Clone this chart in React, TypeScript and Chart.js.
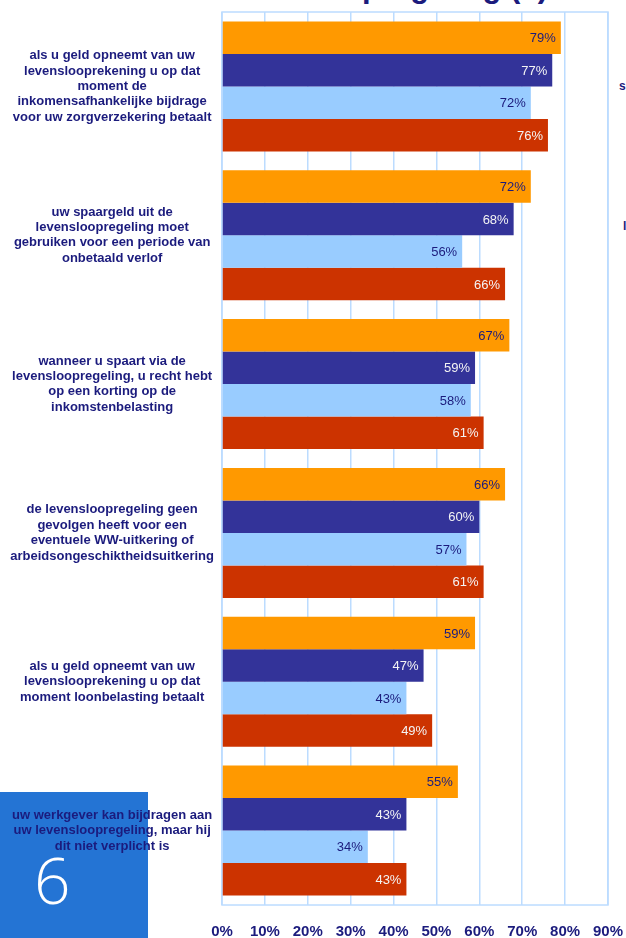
import React, { useEffect, useRef } from "react";
import { Chart, registerables } from "chart.js";

Chart.register(...registerables);

const categories: string[][] = [
  ["als u geld opneemt van uw", "levenslooprekening u op dat", "moment de", "inkomensafhankelijke bijdrage", "voor uw zorgverzekering betaalt"],
  ["uw spaargeld uit de", "levensloopregeling moet", "gebruiken voor een periode van", "onbetaald verlof"],
  ["wanneer u spaart via de", "levensloopregeling, u recht hebt", "op een korting op de", "inkomstenbelasting"],
  ["de levensloopregeling geen", "gevolgen heeft voor een", "eventuele WW-uitkering of", "arbeidsongeschiktheidsuitkering"],
  ["als u geld opneemt van uw", "levenslooprekening u op dat", "moment loonbelasting betaalt"],
  ["uw werkgever kan bijdragen aan", "uw levensloopregeling, maar hij", "dit niet verplicht is"],
];

const seriesNames = ["Reeks 1", "Reeks 2", "Reeks 3", "Reeks 4"];
const series1 = [79, 72, 67, 66, 59, 55];
const series2 = [77, 68, 59, 60, 47, 43];
const series3 = [72, 56, 58, 57, 43, 34];
const series4 = [76, 66, 61, 61, 49, 43];

const xTicks = [0, 10, 20, 30, 40, 50, 60, 70, 80, 90];

const barColors = ["#FF9900", "#333399", "#99CCFF", "#CC3300"];
const labelColors = ["#1b1b7d", "#f4f4f4", "#1b1b7d", "#f4f4f4"];
const NAVY = "#1b1b7d";
const GRID = "#bcdcff";
const FONT = "'Liberation Sans', Arial, sans-serif";

const framePlugin = {
  id: "frame",
  beforeDatasetsDraw(chart: any) {
    const { ctx, chartArea } = chart;
    ctx.save();
    ctx.strokeStyle = GRID;
    ctx.lineWidth = 1.5;
    ctx.strokeRect(chartArea.left, chartArea.top, chartArea.right - chartArea.left, chartArea.bottom - chartArea.top);
    ctx.restore();
  },
};

const valueLabelPlugin = {
  id: "valueLabels",
  afterDatasetsDraw(chart: any) {
    const { ctx } = chart;
    ctx.save();
    ctx.font = `13px ${FONT}`;
    ctx.textAlign = "right";
    ctx.textBaseline = "middle";
    chart.data.datasets.forEach((ds: any, di: number) => {
      const meta = chart.getDatasetMeta(di);
      meta.data.forEach((bar: any, i: number) => {
        ctx.fillStyle = labelColors[di];
        ctx.fillText(`${ds.data[i]}%`, bar.x - 5, bar.y + 1);
      });
    });
    ctx.restore();
  },
};

function zeroPadding(scale: any) {
  scale.paddingTop = 0;
  scale.paddingBottom = 0;
  scale.paddingLeft = 0;
  scale.paddingRight = 0;
}

export default function App() {
  const canvasRef = useRef<HTMLCanvasElement | null>(null);

  useEffect(() => {
    if (!canvasRef.current) return;
    const all = [series1, series2, series3, series4];
    const chart = new Chart(canvasRef.current, {
      type: "bar",
      data: {
        labels: categories,
        datasets: all.map((d, i) => ({
          label: seriesNames[i],
          data: d,
          backgroundColor: barColors[i],
          borderWidth: 0,
          categoryPercentage: 0.874,
          barPercentage: 1.0,
        })),
      },
      options: {
        indexAxis: "y",
        animation: false,
        responsive: false,
        maintainAspectRatio: false,
        layout: { padding: { top: 12, right: 18, left: 0, bottom: 0 } },
        plugins: {
          legend: { display: false },
          tooltip: { enabled: false },
          title: { display: false },
        },
        scales: {
          x: {
            min: 0,
            max: 90,
            afterBuildTicks(scale: any) {
              scale.ticks = xTicks.map((v) => ({ value: v }));
            },
            afterFit(scale: any) {
              scale.height = 33;
              zeroPadding(scale);
            },
            grid: { color: GRID, lineWidth: 1.5, drawTicks: false },
            border: { display: false },
            ticks: {
              padding: 18,
              color: NAVY,
              font: { family: FONT, size: 15, weight: "bold" },
              callback: (v: any) => `${v}%`,
              maxRotation: 0,
              autoSkip: false,
            },
          },
          y: {
            afterFit(scale: any) {
              scale.width = 222;
              zeroPadding(scale);
            },
            grid: { display: false, drawTicks: false },
            border: { display: false },
            ticks: {
              crossAlign: "center",
              padding: 8,
              color: NAVY,
              autoSkip: false,
              font: { family: FONT, size: 13, weight: "bold", lineHeight: 1.18 },
            },
          },
        },
      },
      plugins: [framePlugin, valueLabelPlugin],
    } as any);
    return () => chart.destroy();
  }, []);

  return (
    <div
      style={{
        position: "fixed",
        left: 0,
        top: 0,
        width: 626,
        height: 938,
        overflow: "hidden",
        background: "#ffffff",
        fontFamily: FONT,
      }}
    >
      <div
        style={{
          position: "absolute",
          left: 0,
          top: 792,
          width: 148,
          height: 146,
          background: "#2474d4",
        }}
      />
      <div
        style={{
          position: "absolute",
          left: 34,
          top: 842,
          fontFamily: "'Open Sans', 'DejaVu Sans', sans-serif",
          fontWeight: 300,
          fontSize: 64,
          lineHeight: "76px",
          color: "#ffffff",
        }}
      >
        6
      </div>
      <div
        style={{
          position: "absolute",
          right: 78,
          top: -29,
          whiteSpace: "nowrap",
          fontSize: 31,
          lineHeight: "31px",
          fontWeight: "bold",
          color: NAVY,
        }}
      >
        Kennis levensloopregeling (1)
      </div>
      <div
        style={{
          position: "absolute",
          left: 619,
          top: 79,
          whiteSpace: "nowrap",
          fontSize: 12,
          fontWeight: "bold",
          color: NAVY,
        }}
      >
        s
      </div>
      <div
        style={{
          position: "absolute",
          left: 623,
          top: 219,
          whiteSpace: "nowrap",
          fontSize: 12,
          fontWeight: "bold",
          color: NAVY,
        }}
      >
        l
      </div>
      <canvas
        ref={canvasRef}
        width={626}
        height={938}
        style={{ position: "absolute", left: 0, top: 0, width: 626, height: 938 }}
      />
    </div>
  );
}
